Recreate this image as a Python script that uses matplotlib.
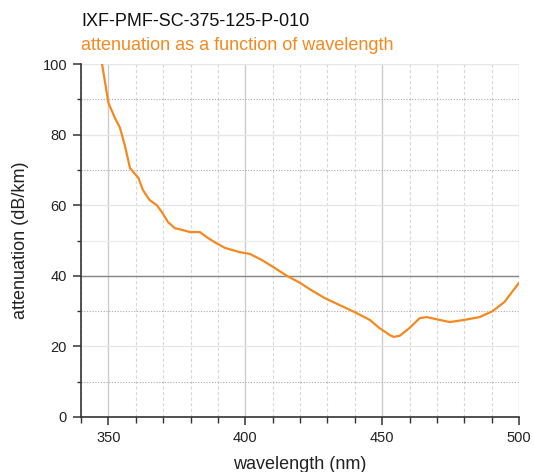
import matplotlib
matplotlib.use("Agg")
import matplotlib.pyplot as plt
from matplotlib.ticker import MultipleLocator

plt.rcParams['font.family'] = ['Liberation Sans', 'DejaVu Sans']

wavelength = [347.7, 350, 352.4, 354.2, 356, 357.9, 361, 362.6, 365, 367.7, 369.6, 371.8,
              374.3, 376.9, 379.8, 383.4, 386.4, 389.3, 392.6, 398, 401.7, 406, 410.8,
              415.2, 420, 424, 429, 434.5, 440, 445.5, 449, 452.8, 454.2, 456.4, 460,
              463.7, 466.3, 471, 474.7, 480, 485.6, 490.4, 494.7, 500]
attenuation = [100, 89, 84.7, 82, 77, 70.5, 67.7, 64.3, 61.5, 60, 58, 55.2,
               53.5, 53, 52.4, 52.4, 50.7, 49.3, 47.9, 46.7, 46.2, 44.5, 42.2,
               40, 38, 36, 33.7, 31.7, 29.7, 27.5, 25.2, 23.2, 22.7, 23, 25.2,
               28, 28.3, 27.5, 26.9, 27.5, 28.3, 30, 32.6, 38]

title = "IXF-PMF-SC-375-125-P-010"
subtitle = "attenuation as a function of wavelength"
xlabel = "wavelength (nm)"
ylabel = "attenuation (dB/km)"

orange = "#F5891F"

fig = plt.figure(figsize=(5.34, 4.72), dpi=100)
ax = fig.add_axes([81/534, 1 - 417/472, (519-81)/534, (417-64)/472])

ax.set_xlim(340, 500)
ax.set_ylim(0, 100)
ax.xaxis.set_major_locator(MultipleLocator(50))
ax.xaxis.set_minor_locator(MultipleLocator(10))
ax.yaxis.set_major_locator(MultipleLocator(20))
ax.yaxis.set_minor_locator(MultipleLocator(10))

ax.grid(which='major', axis='x', color='#cccccc', linewidth=1.0, linestyle='-')
ax.grid(which='minor', axis='x', color='#d8d8d8', linewidth=0.8, linestyle=(0, (3, 2)))
ax.grid(which='major', axis='y', color='#e6e6e6', linewidth=1.0, linestyle='-')
for yv in [10, 30, 70, 90]:
    ax.axhline(yv, color='#aaaaaa', linewidth=0.8, linestyle=(0, (1, 1.5)), zorder=1)
ax.axhline(50, color='#ececec', linewidth=1.0, zorder=1)
ax.axhline(40, color='#888888', linewidth=1.0, zorder=1)
ax.set_axisbelow(True)

ax.plot(wavelength, attenuation, color=orange, linewidth=1.6, zorder=3, clip_on=True)

for s in ['top', 'right']:
    ax.spines[s].set_visible(False)
for s in ['left', 'bottom']:
    ax.spines[s].set_color('#333333')
    ax.spines[s].set_linewidth(1.2)

ax.tick_params(which='major', direction='out', length=6, width=1.1, color='#333333',
               labelsize=10.5, labelcolor='#222222', pad=4)
ax.tick_params(which='minor', direction='out', length=4, width=1.0, color='#333333')
ax.tick_params(axis='y', which='minor', length=3)

ax.set_xlabel(xlabel, fontsize=13, color='#222222', labelpad=8)
ax.set_ylabel(ylabel, fontsize=13, color='#222222', labelpad=10)

fig.text(81/534, 1 - 21/472, title, fontsize=13, color='#111111', va='center', ha='left')
fig.text(81/534, 1 - 45/472, subtitle, fontsize=13, color=orange, va='center', ha='left')

fig.savefig("out.png", dpi=100)
